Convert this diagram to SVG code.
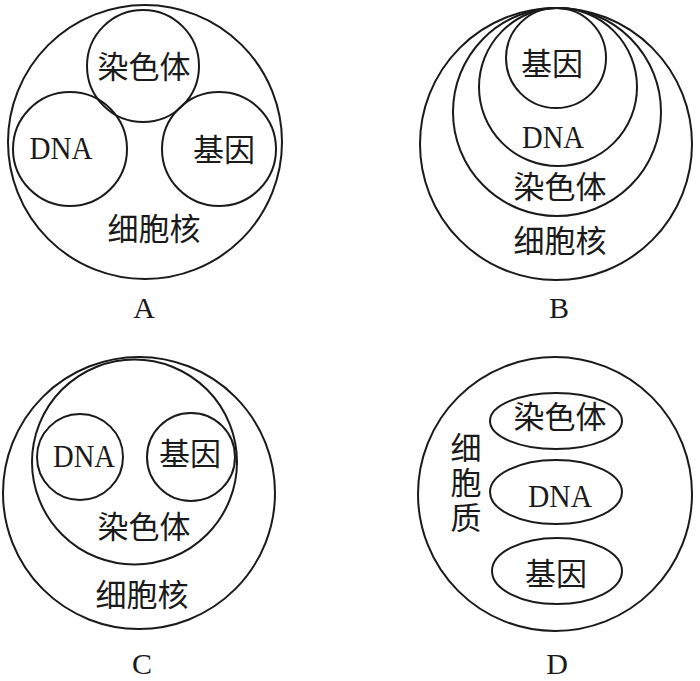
<svg xmlns="http://www.w3.org/2000/svg" width="700" height="681" viewBox="0 0 700 681">
<style>
.c{fill:none;stroke:#1a1a1a;stroke-width:2}
.zh{font-family:"Noto Sans CJK SC","Noto Sans",sans-serif;font-size:31px;fill:#1a1a1a;text-anchor:middle}
.en{font-family:"Liberation Serif","Times New Roman",serif;font-size:32px;fill:#1a1a1a;text-anchor:middle}
.lb{font-family:"Liberation Serif","Times New Roman",serif;font-size:30px;fill:#1a1a1a;text-anchor:middle}
.vt{writing-mode:vertical-rl;letter-spacing:4px}
</style>
<rect width="700" height="681" fill="#ffffff"/>
<g id="panelA">
  <g id="A-nucleus"><circle class="c" cx="145" cy="142" r="137"/><text class="zh" x="154" y="240">细胞核</text></g>
  <g id="A-chromosome"><circle class="c" cx="143" cy="66" r="56"/><text class="zh" x="144" y="78">染色体</text></g>
  <g id="A-dna"><circle class="c" cx="70" cy="149" r="57"/><text class="en" x="61" y="159" textLength="63" lengthAdjust="spacingAndGlyphs">DNA</text></g>
  <g id="A-gene"><circle class="c" cx="219" cy="149" r="57"/><text class="zh" x="224" y="161">基因</text></g>
  <g id="A-label"><text class="lb" x="144" y="318">A</text></g>
</g>
<g id="panelB">
  <g id="B-nucleus"><circle class="c" cx="556" cy="144" r="136"/><text class="zh" x="560" y="252">细胞核</text></g>
  <g id="B-chromosome"><circle class="c" cx="557" cy="112" r="104"/><text class="zh" x="560" y="198">染色体</text></g>
  <g id="B-dna"><circle class="c" cx="558" cy="87" r="79"/><text class="en" x="553" y="148" textLength="62" lengthAdjust="spacingAndGlyphs">DNA</text></g>
  <g id="B-gene"><circle class="c" cx="556" cy="58" r="50"/><text class="zh" x="552" y="75">基因</text></g>
  <g id="B-label"><text class="lb" x="559" y="318">B</text></g>
</g>
<g id="panelC">
  <g id="C-nucleus"><circle class="c" cx="139" cy="493" r="136"/><text class="zh" x="142" y="606">细胞核</text></g>
  <g id="C-chromosome"><circle class="c" cx="134.5" cy="462" r="102.5"/><text class="zh" x="144" y="538">染色体</text></g>
  <g id="C-dna"><circle class="c" cx="80" cy="457" r="43"/><text class="en" x="84" y="467" textLength="62" lengthAdjust="spacingAndGlyphs">DNA</text></g>
  <g id="C-gene"><circle class="c" cx="191" cy="457" r="44"/><text class="zh" x="190" y="465">基因</text></g>
  <g id="C-label"><text class="lb" x="142" y="674">C</text></g>
</g>
<g id="panelD">
  <g id="D-cytoplasm"><circle class="c" cx="555" cy="494" r="137"/>
    <text class="zh vt" x="466" y="484">细胞质</text></g>
  <g id="D-chromosome"><ellipse class="c" cx="556" cy="421" rx="66" ry="28"/><text class="zh" x="560" y="428">染色体</text></g>
  <g id="D-dna"><ellipse class="c" cx="556" cy="492" rx="66" ry="32"/><text class="en" x="560" y="507" textLength="64" lengthAdjust="spacingAndGlyphs">DNA</text></g>
  <g id="D-gene"><ellipse class="c" cx="557" cy="571" rx="65" ry="33"/><text class="zh" x="556" y="585">基因</text></g>
  <g id="D-label"><text class="lb" x="557" y="674">D</text></g>
</g>
<g id="connectors"></g>
</svg>
